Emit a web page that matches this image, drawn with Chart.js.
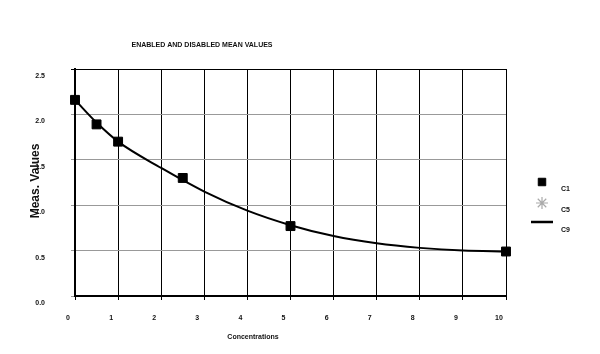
<!DOCTYPE html>
<html>
<head>
<meta charset="utf-8">
<script src="https://cdn.jsdelivr.net/npm/chart.js@4"></script>
<style>
    html, body { margin: 0; padding: 0; background: #fff; }
</style>
</head>
<body>
<canvas id="chart" width="600" height="354"></canvas>
<script>
// measured points (C1)
const concentrations = [0, 0.5, 1, 2.5, 5, 10];
const meanValues = [2.16, 1.89, 1.70, 1.30, 0.77, 0.49];
// C5 has no visible points
const c5Concentrations = [];
const c5Values = [];
// fitted curve (C9)
const fitConcentrations = [0, 0.5, 1, 2, 3, 4, 5, 6, 7, 8, 9, 10];
const fitValues = [2.16, 1.91, 1.70, 1.41, 1.15, 0.94, 0.78, 0.66, 0.58, 0.53, 0.50, 0.49];

const seriesNames = ['C1', 'C5', 'C9'];
const chartTitle = 'ENABLED AND DISABLED MEAN VALUES';
const xTitle = 'Concentrations';
const yTitle = 'Meas. Values';

const FONT = '"Liberation Sans", Arial, sans-serif';
const TEXT = '#111';

function toPoints(xs, ys) {
    return xs.map((x, i) => ({ x: x, y: ys[i] }));
}

const textPlugin = {
    id: 'textPlugin',
    afterDraw(chart) {
        const ctx = chart.ctx;
        ctx.save();
        ctx.fillStyle = TEXT;
        ctx.textAlign = 'center';
        ctx.textBaseline = 'middle';

        ctx.font = 'bold 7px ' + FONT;
        ctx.fillText(chartTitle, 202, 45);
        ctx.fillText(xTitle, 253, 337);

        // y title sits over the tick labels like in the original
        ctx.save();
        ctx.translate(36, 181);
        ctx.rotate(-Math.PI / 2);
        ctx.font = 'bold 12px ' + FONT;
        ctx.fillText(yTitle, 0, 0);
        ctx.restore();

        // legend
        const ds = chart.data.datasets;
        const rows = [
            { sy: 182, ty: 189 },
            { sy: 203, ty: 210 },
            { sy: 222, ty: 230 }
        ];
        ds.forEach((d, i) => {
            const r = rows[i];
            ctx.save();
            if (d.showLine) {
                ctx.strokeStyle = d.borderColor;
                ctx.lineWidth = 2.5;
                ctx.beginPath();
                ctx.moveTo(531, r.sy);
                ctx.lineTo(553, r.sy);
                ctx.stroke();
            } else {
                ctx.fillStyle = d.pointBackgroundColor;
                ctx.strokeStyle = d.pointBorderColor;
                ctx.lineWidth = d.legendBorder;
                Chart.helpers.drawPoint(ctx, {
                    pointStyle: d.pointStyle,
                    radius: d.legendRadius,
                    rotation: 0,
                    borderWidth: d.legendBorder
                }, 542, r.sy);
            }
            ctx.restore();
            ctx.fillStyle = TEXT;
            ctx.textAlign = 'left';
            ctx.font = 'bold 7px ' + FONT;
            ctx.fillText(d.label, 561, r.ty);
        });
        ctx.restore();
    }
};

new Chart(document.getElementById('chart'), {
    type: 'scatter',
    data: {
        datasets: [
            {
                label: seriesNames[0],
                data: toPoints(concentrations, meanValues),
                pointStyle: 'rect',
                pointRadius: 6.3,
                pointBackgroundColor: '#000',
                pointBorderColor: '#000',
                pointBorderWidth: 1,
                clip: false,
                legendRadius: 5.3,
                legendBorder: 1
            },
            {
                label: seriesNames[1],
                data: toPoints(c5Concentrations, c5Values),
                pointStyle: 'star',
                pointRadius: 6,
                pointBackgroundColor: '#aaa',
                pointBorderColor: '#aaa',
                pointBorderWidth: 1,
                legendRadius: 6,
                legendBorder: 1.2
            },
            {
                label: seriesNames[2],
                data: toPoints(fitConcentrations, fitValues),
                showLine: true,
                borderColor: '#000',
                borderWidth: 2,
                pointRadius: 0,
                cubicInterpolationMode: 'monotone'
            }
        ]
    },
    options: {
        responsive: false,
        animation: false,
        layout: {
            padding: { top: 69, right: 94, left: 0, bottom: 0 }
        },
        plugins: {
            legend: { display: false },
            tooltip: { enabled: false }
        },
        scales: {
            x: {
                type: 'linear',
                min: 0,
                max: 10,
                ticks: {
                    stepSize: 1,
                    labelOffset: -7,
                    padding: 14,
                    color: TEXT,
                    font: { family: FONT, size: 7, weight: 'bold' }
                },
                grid: { color: '#000', lineWidth: 1, tickLength: 4 },
                border: { color: '#000', width: 2 },
                afterFit(scale) { scale.height = 58; }
            },
            y: {
                min: 0,
                max: 2.5,
                ticks: {
                    stepSize: 0.5,
                    labelOffset: 7,
                    padding: 26,
                    color: TEXT,
                    font: { family: FONT, size: 7, weight: 'bold' },
                    callback: v => v.toFixed(1)
                },
                grid: {
                    color: c => (c.tick && c.tick.value === 2.5 ? '#000' : '#999'),
                    lineWidth: 1,
                    tickLength: 4
                },
                border: { color: '#000', width: 2 },
                afterFit(scale) { scale.width = 75; }
            }
        }
    },
    plugins: [textPlugin]
});
</script>
</body>
</html>
